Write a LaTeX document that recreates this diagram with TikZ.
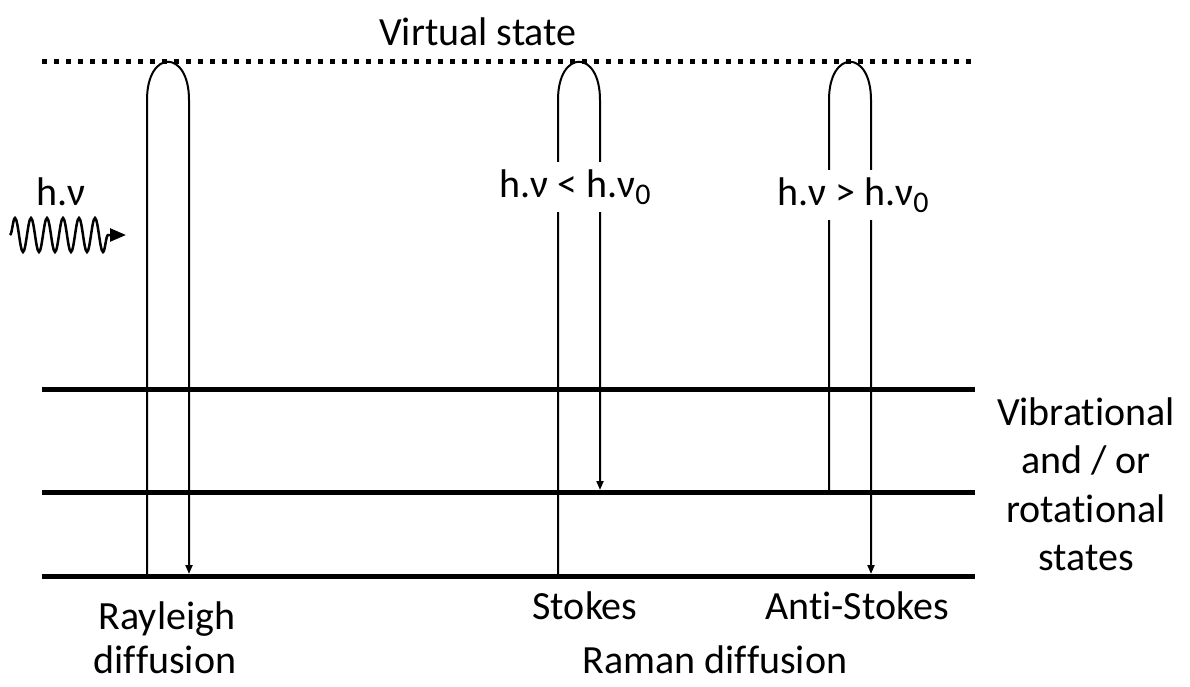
\documentclass[tikz,border=0pt]{standalone}
\usepackage{fontspec}
\setmainfont{Carlito}[RawFeature={-liga;-clig;-dlig}]
\usetikzlibrary{arrows.meta,decorations.pathmorphing}
\newcommand{\subzero}{\raisebox{-0.35ex}{\fontsize{30}{30}\selectfont 0}}
\newcommand{\nolig}{\kern0pt{}}
\begin{document}
\begin{tikzpicture}[x=1pt,y=-1pt,
  level/.style={line width=5pt},
  virt/.style={line width=5pt,dash pattern=on 5pt off 7pt},
  trans/.style={line width=2pt},
  tipd/.style={-{Triangle[length=9pt,width=7pt]}},
  lbl/.style={font=\fontsize{40}{48}\selectfont,inner sep=0pt,anchor=base},
  blank/.style={lbl,fill=white,inner xsep=4pt,inner ysep=8pt,anchor=center}]
\useasboundingbox (0,0) rectangle (1190,687);
% levels
\coordinate (Va) at (42,62);   \coordinate (Vb) at (975,62);
\coordinate (L2a) at (42,389); \coordinate (L2b) at (975,389);
\coordinate (L1a) at (42,492); \coordinate (L1b) at (975,492);
\coordinate (L0a) at (42,576); \coordinate (L0b) at (975,576);
\draw[virt] (Va) -- (Vb);
\draw[level] (L2a) -- (L2b);
\draw[level] (L1a) -- (L1b);
\draw[level] (L0a) -- (L0b);
% Rayleigh
\coordinate (Ra) at (147,576); \coordinate (Rb) at (147,100);
\coordinate (Rc) at (189,100); \coordinate (Rd) at (189,574);
\draw[trans,tipd] (Ra) -- (Rb) .. controls (147,49) and (189,49) .. (Rc) -- (Rd);
% Stokes
\coordinate (Sa) at (558,576); \coordinate (Sb) at (558,100);
\coordinate (Sc) at (600,100); \coordinate (Sd) at (600,490);
\draw[trans,tipd] (Sa) -- (Sb) .. controls (558,49) and (600,49) .. (Sc) -- (Sd);
% Anti-Stokes
\coordinate (Aa) at (829,492); \coordinate (Ab) at (829,100);
\coordinate (Ac) at (871,100); \coordinate (Ad) at (871,574);
\draw[trans,tipd] (Aa) -- (Ab) .. controls (829,49) and (871,49) .. (Ac) -- (Ad);
% photon
\coordinate (Wa) at (10,235); \coordinate (Wb) at (126,235);
\draw[line width=2.5pt,decorate,decoration={snake,amplitude=17pt,segment length=16pt,post length=16pt},
  -{Triangle[length=16pt,width=13pt]}] (Wa) -- (Wb);
% labels
\node[lbl] (vs) at (478,46) {Virtual state};
\node[lbl] (hv) at (61,205) {h.ν};
\node[blank] (st) at (575,187) {h.ν < h.ν\subzero};
\node[blank] (as) at (853,195) {h.ν > h.ν\subzero};
\node[lbl] (r1) at (1086,425) {Vibrat\nolig ional};
\node[lbl] (r2) at (1086,473) {and / or};
\node[lbl] (r3) at (1086,522) {rotat\nolig ional};
\node[lbl] (r4) at (1086,570) {states};
\node[lbl] (ra) at (167,629) {Rayleigh};
\node[lbl] (rb) at (165,673) {dif\nolig f\nolig usion};
\node[lbl] (sk) at (585,619) {Stokes};
\node[lbl] (ask) at (857,619) {Ant\nolig i-Stokes};
\node[lbl] (rm) at (715,673) {Raman dif\nolig f\nolig usion};
\end{tikzpicture}
\end{document}
